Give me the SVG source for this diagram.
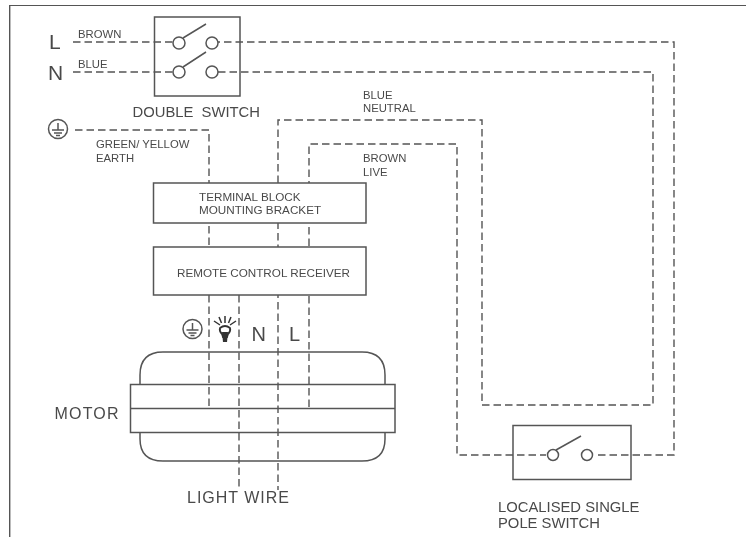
<svg xmlns="http://www.w3.org/2000/svg" width="746" height="537" viewBox="0 0 746 537">
<style>
text{font-family:"Liberation Sans",Arial,sans-serif;fill:#4a4a4a}
.s{fill:none;stroke:#555;stroke-width:1.5}
.b{fill:#fff;stroke:#555;stroke-width:1.5}
.w{fill:none;stroke:#555;stroke-width:1.4;stroke-dasharray:7.500 4}
.c{fill:#fff;stroke:#555;stroke-width:1.5}
.t11{font-size:11.300px}
.t12{font-size:11.700px}
.t15{font-size:14.800px}
</style>
<defs>
<filter id="soft" x="0" y="0" width="100%" height="100%"><feGaussianBlur stdDeviation="0.35"/></filter>
<g id="earth"><circle r="9.500" class="s"/><path class="s" d="M0-6V1M-6 1H6M-4 4H4M-2 6.500H2"/></g>
</defs>
<g filter="url(#soft)">
<path id="frame" d="M9.500 537V5H746" fill="none" stroke="#555" stroke-width="1.800"/>
<g id="motor">
<path class="s" d="M140 384V375Q140 352 163 352H362Q385 352 385 375V384"/>
<path class="s" d="M140 433V439Q140 461 163 461H362Q385 461 385 439V433"/>
<rect class="s" x="130.500" y="384.500" width="264.500" height="48"/>
<path class="s" d="M130.500 408.500H395"/>
<text x="54.500" y="419" font-size="16" textLength="64">MOTOR</text>
</g>
<g id="double-switch">
<rect class="s" x="154.500" y="17" width="85.500" height="79"/>
<text class="t15" x="132.500" y="116.500" xml:space="preserve">DOUBLE  SWITCH</text>
</g>
<g id="single-switch">
<rect class="s" x="513" y="425.500" width="118" height="54"/>
<text class="t15" x="498" y="511.500">LOCALISED SINGLE</text>
<text class="t15" x="498" y="528">POLE SWITCH</text>
</g>
<g id="connectors">
<path class="w" d="M73 42H173M598 455H674V42H218"/>
<path class="w" d="M73 72H173M218 72H653V405H482V120H278V490"/>
<path class="w" d="M75 130H209V408"/>
<path class="w" d="M309 407V144H457V455H546"/>
<path class="w" d="M239 295V490"/>
</g>
<g id="terminal-block">
<rect class="b" x="153.500" y="183" width="212.500" height="40"/>
<text class="t12" x="199" y="200.500">TERMINAL BLOCK</text>
<text class="t12" x="199" y="214">MOUNTING BRACKET</text>
</g>
<g id="receiver">
<rect class="b" x="153.500" y="247" width="212.500" height="48"/>
<text class="t12" x="177" y="276.500">REMOTE CONTROL RECEIVER</text>
</g>
<g id="switch-contacts">
<circle class="c" cx="179" cy="43" r="6"/><circle class="c" cx="212" cy="43" r="6"/>
<circle class="c" cx="179" cy="72" r="6"/><circle class="c" cx="212" cy="72" r="6"/>
<path class="s" d="M183 38L206 24M183 67L206 52"/>
<circle class="c" cx="553" cy="455" r="5.500"/><circle class="c" cx="587" cy="455" r="5.500"/>
<path class="s" d="M556 450L581 436"/>
</g>
<g id="labels">
<text x="49" y="49" font-size="21">L</text>
<text x="48" y="80" font-size="21">N</text>
<text class="t11" x="78" y="37.500">BROWN</text>
<text class="t11" x="78" y="67.500">BLUE</text>
<text class="t11" x="96" y="148">GREEN/ YELLOW</text>
<text class="t11" x="96" y="161.500">EARTH</text>
<text class="t11" x="363" y="99">BLUE</text>
<text class="t11" x="363" y="112">NEUTRAL</text>
<text class="t11" x="363" y="162">BROWN</text>
<text class="t11" x="363" y="176">LIVE</text>
<text x="251.500" y="341" font-size="20">N</text>
<text x="289" y="341" font-size="20">L</text>
<text x="187" y="502.500" font-size="16" textLength="102">LIGHT WIRE</text>
</g>
<use id="earth-1" href="#earth" x="58" y="129"/>
<use id="earth-2" href="#earth" x="192.500" y="329"/>
<g id="bulb" stroke="#333" fill="none">
<path stroke-width="1.500" d="M225 316v7M219 317l2.500 6M231 317l-2.500 6M214 321l6 4M236 321l-6 4"/>
<path stroke-width="1.800" d="M220 328q5-4 10 0q1 3-2 6l-1 3h-4l-1-3q-3-3-2-6z"/>
<path fill="#333" stroke="none" d="M222 332h6l-1 10h-4z"/>
</g>
</g>
</svg>
